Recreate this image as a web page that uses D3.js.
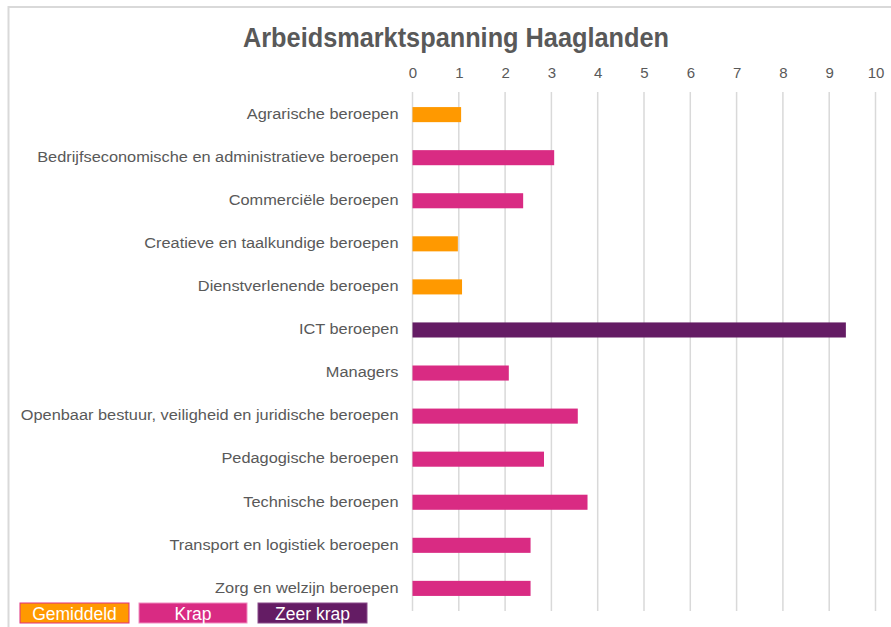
<!DOCTYPE html>
<html>
<head>
<meta charset="utf-8">
<script src="https://cdn.jsdelivr.net/npm/d3@7"></script>
<style>
  body { margin: 0; background: #fff; }
  svg { font-family: "Liberation Sans", Arial, sans-serif; }
</style>
</head>
<body>
<div id="chart"></div>
<script>
  // data
  var categories = [
    "Agrarische beroepen",
    "Bedrijfseconomische en administratieve beroepen",
    "Commerciële beroepen",
    "Creatieve en taalkundige beroepen",
    "Dienstverlenende beroepen",
    "ICT beroepen",
    "Managers",
    "Openbaar bestuur, veiligheid en juridische beroepen",
    "Pedagogische beroepen",
    "Technische beroepen",
    "Transport en logistiek beroepen",
    "Zorg en welzijn beroepen"
  ];
  var values = [1.05, 3.06, 2.39, 0.98, 1.07, 9.36, 2.08, 3.57, 2.84, 3.78, 2.55, 2.55];
  var levels = ["Gemiddeld", "Krap", "Krap", "Gemiddeld", "Gemiddeld", "Zeer krap",
                "Krap", "Krap", "Krap", "Krap", "Krap", "Krap"];
  var legendLabels = ["Gemiddeld", "Krap", "Zeer krap"];
  var levelColors = ["#FF9900", "#D92B83", "#641C64"];
  var tickValues = [0, 1, 2, 3, 4, 5, 6, 7, 8, 9, 10];

  var W = 891, H = 627;
  var margin = { top: 92, right: 15, bottom: 16, left: 412.5 };
  var width = 875.5 - margin.left;
  var height = 611 - margin.top;

  var root = d3.select("#chart").append("svg")
    .attr("width", W)
    .attr("height", H);

  // chart border (only top and left are visible)
  root.append("rect")
    .attr("x", 8.5).attr("y", 7)
    .attr("width", W).attr("height", H)
    .attr("fill", "none")
    .attr("stroke", "#d9d9d9")
    .attr("stroke-width", 2);

  root.append("text")
    .attr("x", 243).attr("y", 47)
    .attr("textLength", 426)
    .attr("lengthAdjust", "spacingAndGlyphs")
    .style("font-size", "27px")
    .style("font-weight", "bold")
    .style("fill", "#595959")
    .text("Arbeidsmarktspanning Haaglanden");

  var svg = root.append("g")
    .attr("transform", "translate(" + margin.left + "," + margin.top + ")");

  var x = d3.scaleLinear().domain([0, 10]).range([0, width]);
  var y = d3.scaleBand().domain(categories).range([0, height]).paddingInner(0.65).paddingOuter(0.35);
  var color = d3.scaleOrdinal().domain(legendLabels).range(levelColors);

  // gridlines
  svg.append("g")
    .selectAll("line")
    .data(tickValues)
    .enter()
    .append("line")
    .attr("x1", function (d) { return x(d); })
    .attr("x2", function (d) { return x(d); })
    .attr("y1", 0)
    .attr("y2", height)
    .attr("stroke", "#d9d9d9")
    .attr("stroke-width", 1.5);

  // top axis labels
  var xAxis = svg.append("g")
    .attr("transform", "translate(0,-14)")
    .call(d3.axisTop(x).tickValues(tickValues).tickSize(0).tickPadding(0).tickFormat(d3.format("d")));
  xAxis.select(".domain").remove();
  xAxis.selectAll("text")
    .style("font-size", "15px")
    .style("fill", "#595959")
    .style("font-family", "Liberation Sans, Arial, sans-serif");

  // category labels (the reference font is a bit wider, so stretch horizontally)
  var yAxis = svg.append("g")
    .attr("transform", "translate(-14,-0.5)")
    .call(d3.axisLeft(y).tickSize(0).tickPadding(0));
  yAxis.select(".domain").remove();
  yAxis.selectAll("text")
    .attr("transform", "scale(1.09,1)")
    .style("font-size", "15px")
    .style("fill", "#595959")
    .style("font-family", "Liberation Sans, Arial, sans-serif");

  // bars
  svg.selectAll("mybar")
    .data(categories)
    .enter()
    .append("rect")
    .attr("x", x(0))
    .attr("y", function (d) { return y(d); })
    .attr("width", function (d, i) { return x(values[i]) - x(0); })
    .attr("height", y.bandwidth())
    .attr("fill", function (d, i) { return color(levels[i]); });

  // legend boxes at the bottom
  var legendX = [20, 139, 258];
  var legendW = [109, 108, 109];
  var legendStroke = ["#E0307F", "#F08CC0", "#8A4A8A"];
  var legend = root.append("g");
  legend.selectAll("rect")
    .data(legendLabels)
    .enter()
    .append("rect")
    .attr("x", function (d, i) { return legendX[i]; })
    .attr("y", 603)
    .attr("width", function (d, i) { return legendW[i]; })
    .attr("height", 20)
    .attr("fill", function (d) { return color(d); })
    .attr("stroke", function (d, i) { return legendStroke[i]; })
    .attr("stroke-width", 1);
  legend.selectAll("text")
    .data(legendLabels)
    .enter()
    .append("text")
    .attr("x", function (d, i) { return legendX[i] + legendW[i] / 2; })
    .attr("y", 619.5)
    .attr("text-anchor", "middle")
    .style("font-size", "17.5px")
    .style("fill", "#fff")
    .text(function (d) { return d; });
</script>
</body>
</html>
